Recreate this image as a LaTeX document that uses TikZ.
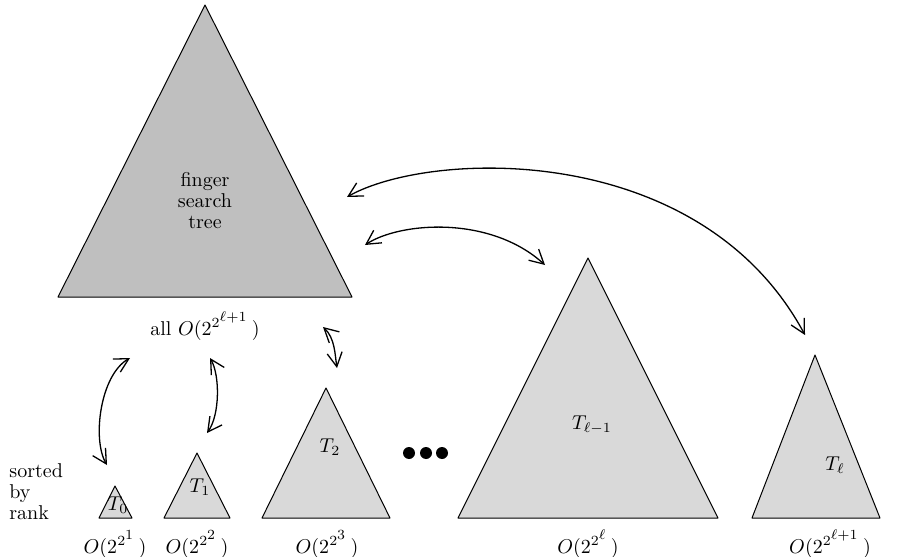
\documentclass[tikz,border=0pt]{standalone}
\usetikzlibrary{arrows.meta}
\begin{document}
\begin{tikzpicture}[line join=round,line cap=round,>={Straight Barb[length=7pt,width=7.5pt]},x=0.5pt,y=-0.5pt,
	bigtree/.style={draw,fill=black!25,line width=0.5pt},
	subtree/.style={draw,fill=black!15,line width=0.5pt},
	link/.style={<->,line width=0.65pt},
	dot/.style={circle,fill,inner sep=0pt,minimum size=6pt}]
	\useasboundingbox (0,0) rectangle (912,557);
	\filldraw[bigtree] (205,5) -- (58,297) -- (352,297) -- cycle;
	\node[align=center] (fst) at (205,201) {finger\\[-1.5pt] search\\[-1.5pt] tree};
	\node[anchor=base] (all) at (205,335) {all $O(2^{2^{\scriptstyle\ell+1}}\,)$};
	\node[align=left,anchor=base west,inner sep=0pt] (rank) at (9,519) {sorted\\[-1.5pt] by\\[-1.5pt] rank};
	\foreach \ax/\ay/\bl/\br/\lx/\ly/\nm/\sx/\sz in {115/486/99/132/118/505/{T_0}/115/1,197/453/164/230/200/487/{T_1}/197/2,326/388/262/390/330/447/{T_2}/327/3,588/258/458/718/592/425/{T_{\ell-1}}/588/\ell,815/355/752/880/835/465/{T_\ell}/830/{\ell+1}}{
		\filldraw[subtree] (\ax,\ay) -- (\bl,518) -- (\br,518) -- cycle;
		\node (t\sx) at (\lx,\ly) {$\nm$};
		\node[anchor=base] (s\sx) at (\sx,553) {$O(2^{2^{\scriptstyle\sz}}\,)$};
	}
	\node[dot] (d1) at (409,453) {};
	\node[dot] (d2) at (426,453) {};
	\node[dot] (d3) at (442,453) {};
	\coordinate (fa) at (347,197); \coordinate (la) at (805,335);
	\coordinate (fb) at (365,245); \coordinate (lb) at (545,265);
	\coordinate (u0) at (130,358); \coordinate (v0) at (107,465);
	\coordinate (u1) at (210,358); \coordinate (v1) at (207,433);
	\coordinate (u2) at (323,327); \coordinate (v2) at (337,368);
	\draw[link] (fa) .. controls (430,150) and (700,140) .. (la);
	\draw[link] (fb) .. controls (400,222) and (490,215) .. (lb);
	\draw[link] (u0) .. controls (100,375) and (92,440) .. (v0);
	\draw[link] (u1) .. controls (220,375) and (220,415) .. (v1);
	\draw[link] (u2) .. controls (335,338) and (335,355) .. (v2);
\end{tikzpicture}
\end{document}
